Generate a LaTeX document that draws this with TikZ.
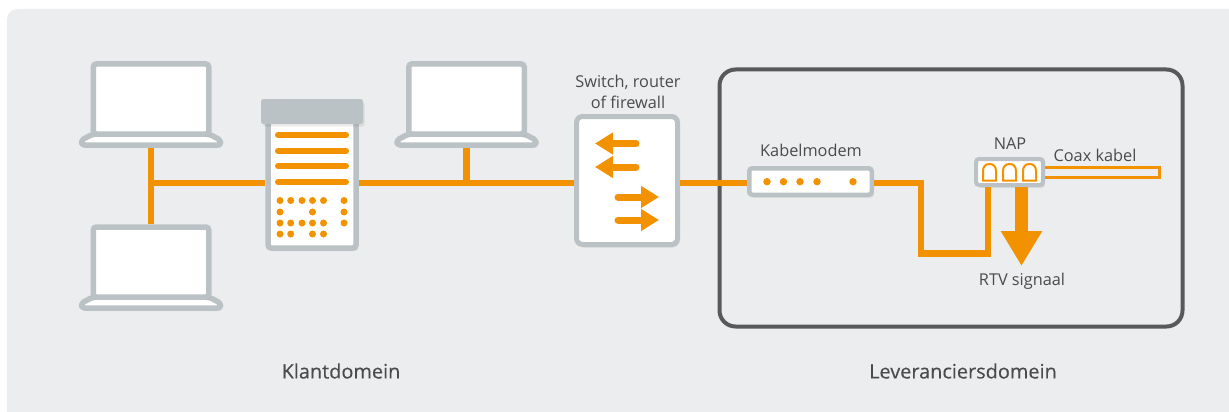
\documentclass[tikz,border=0pt]{standalone}
\usepackage{fontspec}
\setmainfont{Open Sans}
\usetikzlibrary{arrows.meta,shadows}
\definecolor{panel}{HTML}{ECEDEF}
\definecolor{steel}{HTML}{BBC2C5}
\definecolor{signal}{HTML}{F39200}
\definecolor{slate}{HTML}{58595B}
\definecolor{ink}{HTML}{4A4B4D}
\begin{document}
\begin{tikzpicture}[
  x=1pt,
  y=-1pt,
  softshadow/.style={
    drop shadow={shadow xshift=2pt, shadow yshift=-3pt, fill=black, opacity=0.07}
  },
  unit/.style={
    draw=steel,
    fill=white,
    line width=5.5pt,
    rounded corners=3pt,
    inner sep=0pt,
    softshadow
  },
  screen/.style={
    unit,
    minimum width=115.5pt,
    minimum height=70pt
  },
  keyboard/.style={
    unit,
    line join=round,
    rounded corners=3pt
  },
  lbl/.style={
    font=\fontsize{16.3}{20.5}\selectfont,
    text=ink,
    inner sep=0pt
  },
  domname/.style={
    font=\fontsize{19.9}{22}\selectfont\addfontfeature{FakeBold=0.25},
    text=ink,
    inner sep=0pt
  },
  bus/.style={
    draw=signal,
    line width=6.5pt
  },
  flow/.style={
    bus,
    line width=7pt,
    line cap=round,
    -{Triangle[length=18pt, width=21pt]}
  }
  ]
  \useasboundingbox (0,0) rectangle (1229,412);
  \fill [panel] (17,9) [rounded corners=10pt] -- (7,9) [sharp corners] -- (7,412) -- (1229,412) -- (1229,9) -- cycle;
  \node [draw=slate, line width=4pt, rounded corners=16pt, minimum width=463pt, minimum height=257pt, inner sep=0pt] (Leverancier) at (951,198) {};

  % laptops
  \foreach \lap/\xc/\yc in {LaptopA/151/99, LaptopB/151/262, LaptopC/466.5/99} {
    \draw [keyboard] (\xc-57.75,\yc+35) -- (\xc+57.75,\yc+35) -- (\xc+69.5,\yc+41)
      -- (\xc+69.5,\yc+46) -- (\xc-69.5,\yc+46) -- (\xc-69.5,\yc+41) -- cycle;
    \coordinate (\lap base) at (\xc,\yc+48.7);
    \node [screen] (\lap) at (\xc,\yc) {};
  }

  % server
  \node [unit, minimum width=88pt, minimum height=132pt] (Server) at (312,182) {};
  \node [draw=steel, fill=steel, line width=1pt, rounded corners=2pt, minimum width=101pt, minimum height=24pt, inner sep=0pt, softshadow] (ServerCap) at (312,111.5) {};
  \foreach \yy in {135,151,166,182}
    \draw [signal, line width=6pt, line cap=round] (278,\yy) -- (346,\yy);
  \foreach \xx/\yy in {280/200.5, 290.7/200.5, 302/200.5, 312.5/200.5, 323.5/200.5, 344/200.5,
                       280/212, 312.5/212, 344/212,
                       280/223, 290.7/223, 302/223, 312.5/223, 323.5/223, 344/223,
                       280/234, 290.7/234, 312.5/234, 323.5/234}
    \fill [signal] (\xx,\yy) circle [radius=3.5pt];

  % switch
  \node [unit, line width=5pt, rounded corners=6pt, minimum width=101pt, minimum height=128pt] (Switch) at (627,180.5) {};
  \node [lbl, align=center] (SwitchText) at (628,92) {Switch, router\\of firewall};
  \coordinate (OutA) at (595,143.5);
  \coordinate (OutB) at (595,167);
  \coordinate (InA) at (659,197);
  \coordinate (InB) at (659,220);
  \draw [flow] (OutA -| 636,0) -- (OutA);
  \draw [flow] (OutB -| 636,0) -- (OutB);
  \draw [flow] (InA -| 618,0) -- (InA);
  \draw [flow] (InB -| 618,0) -- (InB);

  % modem
  \node [unit, line width=4.5pt, minimum width=122.5pt, minimum height=26.5pt] (Modem) at (810.5,181.5) {};
  \node [lbl] (ModemText) at (811,150) {Kabelmodem};
  \foreach \xx in {767,783.5,800,817,853}
    \fill [signal] (\xx,181.7) circle [radius=3.7pt];

  % nap
  \node [draw=signal, fill=panel, line width=3.5pt, minimum width=116pt, minimum height=10pt, inner sep=0pt, outer sep=0pt, anchor=west] (Coax) at (1043.5,172.5) {};
  \node [unit, line width=4pt, minimum width=67pt, minimum height=26pt] (Nap) at (1009.5,172) {};
  \node [lbl] (NapText) at (1010,144) {NAP};
  \node [lbl] (CoaxText) at (1095,155) {Coax kabel};
  \node [lbl] (RtvText) at (1022,281) {RTV signaal};
  \foreach \xx in {983,1003,1023}
    \draw [signal, line width=2pt] (\xx,180.5) -- (\xx,171) .. controls (\xx,166) and (\xx+3,164) .. (\xx+6.5,164)
      .. controls (\xx+10,164) and (\xx+13,166) .. (\xx+13,171) -- (\xx+13,180.5) -- cycle;

  % domain names
  \node [domname] (Klant) at (341,371) {Klantdomein};
  \node [domname] (Lever) at (963,371) {Leveranciersdomein};

  % connectors
  \coordinate (Tee) at (151,183);
  \coordinate (RtvTip) at (1021.5,266);
  \coordinate (BendA) at (921,253.5);
  \coordinate (BendB) at (988,253.5);
  \draw [bus] (LaptopAbase) -- (LaptopB.north);
  \draw [bus] (Tee) -- (Tee -| Server.west);
  \draw [bus] (Tee -| Server.east) -- (Tee -| Switch.west);
  \draw [bus] (LaptopCbase) -- (LaptopCbase |- Tee);
  \draw [bus] (Tee -| Switch.east) -- (Tee -| Modem.west);
  \draw [bus] (Tee -| Modem.east) -| (BendA) -- (BendB) -- (BendB |- Nap.south);
  \draw [bus, line width=13pt, -{Triangle[length=35pt, width=39pt]}] (Nap.south -| RtvTip) -- (RtvTip);
\end{tikzpicture}
\end{document}
